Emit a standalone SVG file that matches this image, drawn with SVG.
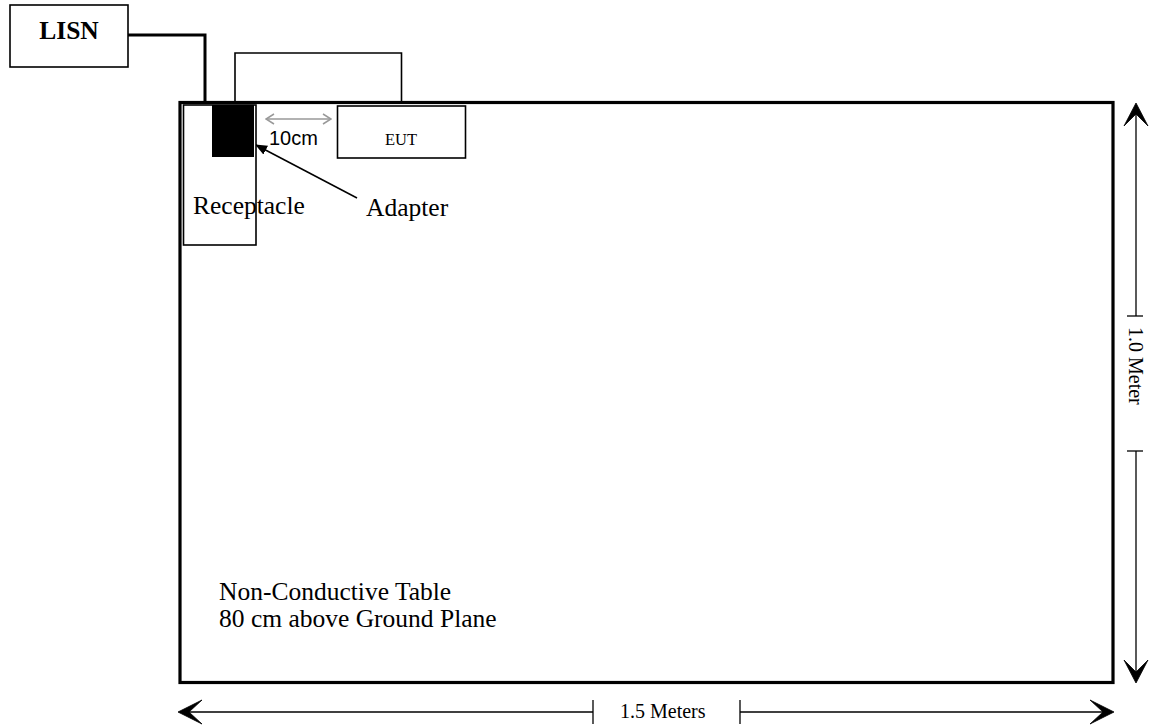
<svg xmlns="http://www.w3.org/2000/svg" width="1155" height="727" viewBox="0 0 1155 727">
<style>
.serif{font-family:"Liberation Serif","Times New Roman",serif;fill:#000}
.sans{font-family:"Liberation Sans",Arial,sans-serif;fill:#000}
.box{fill:#fff;stroke:#000;stroke-width:1.6}
.dim{stroke:#000;stroke-width:1.3;fill:none}
.head{fill:#000;stroke:#000;stroke-width:0.8;stroke-linejoin:miter}
</style>
<defs>
<marker id="tri" viewBox="0 0 12 10" refX="11" refY="5" markerWidth="12" markerHeight="10" markerUnits="userSpaceOnUse" orient="auto">
<path d="M0,0 L12,5 L0,10 z" fill="#000"/>
</marker>
<marker id="gray" viewBox="0 0 10 12" refX="9" refY="6" markerWidth="10" markerHeight="12" markerUnits="userSpaceOnUse" orient="auto-start-reverse">
<path d="M1,1 L9,6 L1,11" fill="none" stroke="#999" stroke-width="1.5"/>
</marker>
</defs>
<rect width="1155" height="727" fill="#fff"/>

<g id="table">
<rect x="180" y="102.5" width="933" height="580" fill="none" stroke="#000" stroke-width="3.2"/>
<text class="serif" x="219" y="600" font-size="25.5">Non-Conductive Table</text>
<text class="serif" x="219" y="627" font-size="25.5">80 cm above Ground Plane</text>
</g>

<g id="connectors">
<polyline points="128,35 205,35 205,102" fill="none" stroke="#000" stroke-width="3"/>
<polyline points="235,102 235,53 401.5,53 401.5,102" fill="none" stroke="#000" stroke-width="1.6"/>
<line x1="357" y1="198" x2="256" y2="145" stroke="#000" stroke-width="1.5" marker-end="url(#tri)"/>
<line x1="266" y1="119" x2="331" y2="119" stroke="#999" stroke-width="1.5" marker-start="url(#gray)" marker-end="url(#gray)"/>
</g>

<g id="lisn">
<rect class="box" x="10" y="5" width="118" height="62"/>
<text class="serif" x="69" y="39" font-size="25.5" font-weight="bold" text-anchor="middle">LISN</text>
</g>

<g id="receptacle">
<rect class="box" x="183.5" y="105" width="72.5" height="140" fill="none"/>
<text class="serif" x="193" y="214" font-size="25.5">Receptacle</text>
</g>

<g id="adapter">
<rect x="212" y="105" width="42" height="52" fill="#000"/>
<text class="serif" x="366" y="216" font-size="25.5">Adapter</text>
</g>

<g id="eut">
<rect class="box" x="337.5" y="106" width="128" height="52"/>
<text class="serif" x="401" y="145" font-size="16.5" text-anchor="middle">EUT</text>
</g>

<text class="sans" x="269" y="145" font-size="20">10cm</text>

<g id="dim-vertical">
<line class="dim" x1="1136" y1="110" x2="1136" y2="316"/>
<line class="dim" x1="1136" y1="451" x2="1136" y2="676"/>
<line class="dim" x1="1127" y1="316" x2="1143" y2="316"/>
<line class="dim" x1="1127" y1="451" x2="1143" y2="451"/>
<polygon class="head" points="1136,103 1148,126 1136,114 1124,126"/>
<polygon class="head" points="1136,683 1148,660 1136,672 1124,660"/>
<text class="serif" font-size="20" transform="translate(1129,327) rotate(90)">1.0 Meter</text>
</g>

<g id="dim-horizontal">
<line class="dim" x1="184" y1="712" x2="593" y2="712"/>
<line class="dim" x1="740" y1="712" x2="1107" y2="712"/>
<line class="dim" x1="593" y1="700" x2="593" y2="724"/>
<line class="dim" x1="740" y1="700" x2="740" y2="724"/>
<polygon class="head" points="178,712 202,700 189,712 202,724"/>
<polygon class="head" points="1114,712 1090,700 1103,712 1090,724"/>
<text class="serif" x="620" y="718" font-size="20">1.5 Meters</text>
</g>
</svg>
